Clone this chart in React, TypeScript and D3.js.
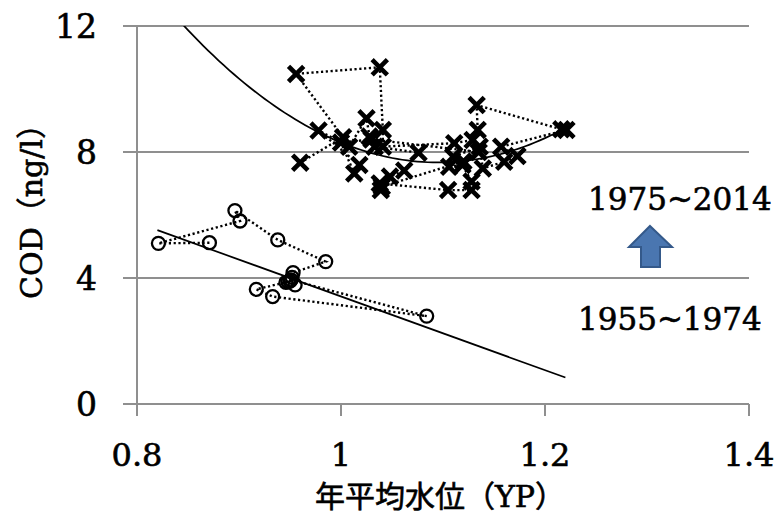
import React, { useEffect, useRef } from 'react';
import * as d3 from 'd3';

// 1975~2014 (crosses), in year order: [water level YP, COD]
const lateYears = [
  [0.960, 7.66], [1.002, 8.47], [0.956, 10.48], [1.038, 10.69], [1.041, 8.70],
  [1.041, 8.17], [1.111, 8.28], [1.129, 8.38], [1.134, 8.70], [1.133, 9.49],
  [1.216, 8.72], [1.221, 8.70], [1.157, 8.17], [1.173, 7.87], [1.160, 7.69],
  [1.139, 7.48], [1.136, 8.17], [1.110, 7.85], [1.106, 7.53], [1.119, 7.59],
  [1.128, 7.06], [1.128, 6.79], [1.105, 6.79], [1.038, 7.00], [1.039, 6.79],
  [1.048, 7.22], [1.062, 7.41], [1.076, 7.98], [1.033, 8.17], [1.028, 8.49],
  [1.025, 9.07], [1.008, 8.17], [0.978, 8.68], [1.018, 7.59], [1.013, 7.32],
  [1.000, 8.30], [1.030, 8.40], [1.135, 8.00], [1.120, 7.70], [1.040, 6.90],
];

// 1955~1974 (circles), in year order
const earlyYears = [
  [0.871, 5.12], [0.821, 5.10], [0.901, 5.81], [0.896, 6.14], [0.938, 5.21],
  [0.985, 4.52], [0.953, 4.17], [0.951, 3.94], [1.084, 2.79], [0.933, 3.41],
  [0.917, 3.64], [0.948, 3.88], [0.955, 3.78], [0.950, 3.90], [0.946, 3.86],
  [0.952, 4.02],
];

// trend lines
const lateTrendPoly = [70, -153.3, 91.6]; // a*x^2 + b*x + c
const lateTrendRange = [0.82, 1.22];
const earlyTrendLin = [-11.7, 15.114]; // m*x + k
const earlyTrendRange = [0.82, 1.22];

const xTicks = [0.8, 1, 1.2, 1.4];
const xTickLabels = ['0.8', '1', '1.2', '1.4'];
const yTicks = [0, 4, 8, 12];
const yTickLabels = ['0', '4', '8', '12'];

const xTitle = '年平均水位（YP）';
const yTitle = 'COD（ng/l）';
const lateLabel = '1975~2014';
const earlyLabel = '1955~1974';

const FONT = '"DejaVu Serif", "Noto Sans CJK JP", serif';

function App() {
  const ref = useRef(null);

  useEffect(() => {
    const svg = d3.select(ref.current);
    svg.selectAll('*').remove();

    const width = 777;
    const height = 517;
    const left = 137, right = 749, top = 26, bottom = 404;

    const x = d3.scaleLinear().domain([0.8, 1.4]).range([left, right]);
    const y = d3.scaleLinear().domain([0, 12]).range([bottom, top]);

    svg.attr('width', width).attr('height', height);

    svg.append('defs').append('clipPath').attr('id', 'plot-clip')
      .append('rect')
      .attr('x', left).attr('y', top)
      .attr('width', right - left).attr('height', bottom - top);

    const grid = '#8f8f8f';

    // text helper: Century-like heavier strokes
    const txt = (sel, size) => sel
      .style('font-family', FONT).style('font-size', size + 'px')
      .attr('fill', '#000').attr('stroke', '#000').attr('stroke-width', 0.6);

    // horizontal gridlines (with tick stubs to the left)
    svg.append('g').selectAll('line')
      .data(yTicks)
      .enter()
      .append('line')
      .attr('x1', left - 14).attr('x2', right)
      .attr('y1', d => y(d)).attr('y2', d => y(d))
      .attr('stroke', grid).attr('stroke-width', 2);

    // y axis line
    svg.append('line')
      .attr('x1', left).attr('x2', left)
      .attr('y1', top).attr('y2', bottom + 12)
      .attr('stroke', grid).attr('stroke-width', 2);

    // x ticks
    svg.append('g').selectAll('line')
      .data(xTicks.slice(1))
      .enter()
      .append('line')
      .attr('x1', d => x(d)).attr('x2', d => x(d))
      .attr('y1', bottom).attr('y2', bottom + 12)
      .attr('stroke', grid).attr('stroke-width', 2);

    // tick labels
    txt(svg.append('g').selectAll('text')
      .data(yTicks)
      .enter()
      .append('text')
      .attr('x', 97).attr('y', d => y(d) + 12)
      .attr('text-anchor', 'end'), 33)
      .text((d, i) => yTickLabels[i]);

    txt(svg.append('g').selectAll('text')
      .data(xTicks)
      .enter()
      .append('text')
      .attr('x', d => x(d)).attr('y', 466)
      .attr('text-anchor', 'middle'), 32)
      .text((d, i) => xTickLabels[i]);

    // axis titles
    txt(svg.append('text')
      .attr('x', 440).attr('y', 507)
      .attr('text-anchor', 'middle'), 30)
      .text(xTitle);

    txt(svg.append('text')
      .attr('transform', 'translate(42,204) rotate(-90)')
      .attr('text-anchor', 'middle'), 30)
      .text(yTitle);

    const plot = svg.append('g').attr('clip-path', 'url(#plot-clip)');

    // trend lines
    const [a, b, c] = lateTrendPoly;
    const quad = d3.range(lateTrendRange[0], lateTrendRange[1] + 0.0001, 0.005)
      .map(v => [v, a * v * v + b * v + c]);
    const [m, k] = earlyTrendLin;
    const lin = earlyTrendRange.map(v => [v, m * v + k]);

    const line = d3.line().x(d => x(d[0])).y(d => y(d[1]));

    plot.append('path')
      .attr('d', line(quad))
      .attr('fill', 'none').attr('stroke', '#000').attr('stroke-width', 1.7);
    plot.append('path')
      .attr('d', line(lin))
      .attr('fill', 'none').attr('stroke', '#000').attr('stroke-width', 1.7);

    // dotted year-to-year connections
    [earlyYears, lateYears].forEach(series => {
      plot.append('path')
        .attr('d', line(series))
        .attr('fill', 'none')
        .attr('stroke', '#000')
        .attr('stroke-width', 2.4)
        .attr('stroke-dasharray', '2.2,2.6');
    });

    // circle markers
    plot.append('g').selectAll('circle')
      .data(earlyYears)
      .enter()
      .append('circle')
      .attr('cx', d => x(d[0])).attr('cy', d => y(d[1]))
      .attr('r', 6.5)
      .attr('fill', 'none')
      .attr('stroke', '#000').attr('stroke-width', 2.3);

    // cross markers
    plot.append('g').selectAll('path')
      .data(lateYears)
      .enter()
      .append('path')
      .attr('transform', d => `translate(${x(d[0])},${y(d[1])})`)
      .attr('d', 'M-6,-6L6,6M-6,6L6,-6')
      .attr('stroke', '#000').attr('stroke-width', 4.6)
      .attr('stroke-linecap', 'square');

    // period labels and arrow
    txt(svg.append('text')
      .attr('x', 588).attr('y', 210), 31)
      .text(lateLabel);
    txt(svg.append('text')
      .attr('x', 578).attr('y', 330), 31)
      .text(earlyLabel);

    svg.append('path')
      .attr('d', 'M650,226 L672,247 L660,247 L660,267 L641,267 L641,247 L629,247 Z')
      .attr('fill', '#4A76B0')
      .attr('stroke', '#34598A')
      .attr('stroke-width', 2)
      .attr('stroke-linejoin', 'miter');
  }, []);

  return (
    <svg ref={ref} style={{ position: 'absolute', left: 0, top: 0, background: '#fff' }}></svg>
  );
}

export default App;
